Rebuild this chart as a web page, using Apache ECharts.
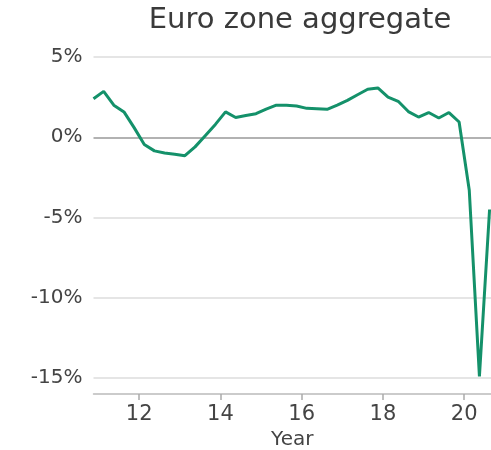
<!DOCTYPE html>
<html>
<head>
<meta charset="utf-8">
<script src="https://cdn.jsdelivr.net/npm/echarts@6/dist/echarts.min.js"></script>
<style>
  html, body { margin: 0; padding: 0; background: #fff; }
  #main { width: 491px; height: 450px; }
</style>
</head>
<body>
<div id="main"></div>
<script>
// quarters from 2010 Q4 to 2020 Q3
const quarters = [
  '2010Q4',
  '2011Q1', '2011Q2', '2011Q3', '2011Q4',
  '2012Q1', '2012Q2', '2012Q3', '2012Q4',
  '2013Q1', '2013Q2', '2013Q3', '2013Q4',
  '2014Q1', '2014Q2', '2014Q3', '2014Q4',
  '2015Q1', '2015Q2', '2015Q3', '2015Q4',
  '2016Q1', '2016Q2', '2016Q3', '2016Q4',
  '2017Q1', '2017Q2', '2017Q3', '2017Q4',
  '2018Q1', '2018Q2', '2018Q3', '2018Q4',
  '2019Q1', '2019Q2', '2019Q3', '2019Q4',
  '2020Q1', '2020Q2', '2020Q3'
];
// growth, %
const growth = [
  2.4,
  2.86, 2.0, 1.58, 0.6,
  -0.45, -0.85, -0.98, -1.06,
  -1.15, -0.6, 0.1, 0.8,
  1.58, 1.23, 1.35, 1.47,
  1.75, 2.0, 2.0, 1.95,
  1.8, 1.77, 1.74, 2.0,
  2.3, 2.65, 2.99, 3.07,
  2.5, 2.24, 1.6, 1.26,
  1.54, 1.2, 1.54, 0.95,
  -3.3, -14.9, -4.5
];
const yearTicks = [12, 14, 16, 18, 20];
const pctTicks = [-15, -10, -5, 0, 5];

// quarter -> position on the year axis (two-digit year, middle of the quarter)
const quarterPos = q => Number(q.slice(2, 4)) + (Number(q.slice(5)) - 0.5) / 4;
const points = quarters.map((q, i) => [quarterPos(q), growth[i]]);

const font = 'DejaVu Sans';
const chart = echarts.init(document.getElementById('main'));
chart.setOption({
  animation: false,
  title: {
    text: 'Euro zone aggregate',
    left: 295,
    top: 1,
    textAlign: 'center',
    textStyle: { fontFamily: font, fontSize: 29, fontWeight: 'normal', color: '#3a3a3a' }
  },
  grid: { left: 93.5, right: 0, top: 57, bottom: 72, outerBoundsMode: 'none' },
  xAxis: {
    type: 'value',
    min: 10.875,
    max: 20.66,
    offset: 16,
    name: 'Year',
    nameLocation: 'middle',
    nameGap: 35,
    nameTextStyle: { fontFamily: font, fontSize: 20, color: '#444' },
    axisLine: { onZero: false, lineStyle: { color: '#bbb', width: 1.5 } },
    axisTick: { show: true, customValues: yearTicks, length: 6, lineStyle: { color: '#aaa', width: 1.5 } },
    axisLabel: {
      customValues: yearTicks,
      margin: 10,
      fontFamily: font,
      fontSize: 21,
      color: '#444',
      formatter: v => String(v)
    },
    splitLine: { show: false }
  },
  yAxis: {
    type: 'value',
    min: -15,
    max: 5,
    interval: 5,
    axisLine: { show: false },
    axisTick: { show: false },
    axisLabel: {
      margin: 11,
      fontFamily: font,
      fontSize: 20,
      color: '#444',
      formatter: v => v + '%'
    },
    splitLine: {
      lineStyle: {
        color: pctTicks.map(v => (v === 0 ? '#999' : '#ddd')),
        width: 1.5
      }
    }
  },
  series: [
    {
      type: 'line',
      data: points,
      showSymbol: false,
      clip: true,
      lineStyle: { color: '#14916a', width: 3 }
    }
  ]
});
</script>
</body>
</html>
